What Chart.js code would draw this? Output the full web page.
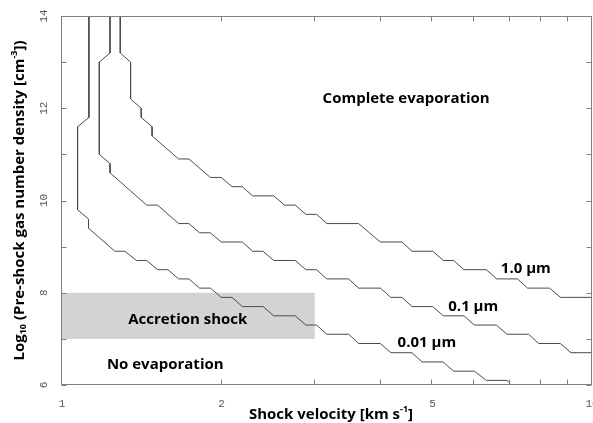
<!DOCTYPE html>
<html><head><meta charset="utf-8">
<script src="https://cdn.jsdelivr.net/npm/chart.js@4/dist/chart.umd.min.js"></script>
<style>html,body{margin:0;padding:0;background:#fff;overflow:hidden}</style>
</head><body>
<canvas id="c" width="593" height="423"></canvas>
<script>
// ---- data ----
// 1.0 micron contour: shock velocity [km/s] and log10 density
const v_1p0 = [1.288,1.288,1.347,1.347,1.411,1.411,1.479,1.479,1.660,1.736,1.905,1.998,2.093,2.189,2.289,2.509,2.630,2.755,2.884,3.022,3.160,3.628,3.987,4.380,4.575,5.007,5.242,5.482,5.734,6.319,6.613,7.238,7.557,8.318,8.714,10];
const n_1p0 = [14,13.2,13.0,12.2,12.0,11.8,11.6,11.4,10.9,10.9,10.5,10.5,10.3,10.3,10.1,10.1,9.9,9.9,9.7,9.7,9.5,9.5,9.1,9.1,8.9,8.9,8.7,8.7,8.5,8.5,8.3,8.3,8.1,8.1,7.9,7.9];
// 0.1 micron contour
const v_0p1 = [1.232,1.232,1.176,1.176,1.232,1.232,1.445,1.515,1.660,1.736,1.818,1.905,1.998,2.189,2.289,2.395,2.509,2.755,2.884,3.022,3.160,3.474,3.628,3.987,4.173,4.380,4.575,5.007,5.242,5.734,5.996,6.600,6.913,7.591,7.930,8.714,9.128,10];
const n_0p1 = [14,13.2,13.0,11.0,10.8,10.6,9.9,9.9,9.5,9.5,9.3,9.3,9.1,9.1,8.9,8.9,8.7,8.7,8.5,8.5,8.3,8.3,8.1,8.1,7.9,7.9,7.7,7.7,7.5,7.5,7.3,7.3,7.1,7.1,6.9,6.9,6.7,6.7];
// 0.01 micron contour
const v_0p01 = [1.124,1.124,1.070,1.070,1.122,1.122,1.258,1.314,1.381,1.445,1.515,1.584,1.660,1.736,1.818,1.905,1.998,2.093,2.189,2.395,2.509,2.755,2.884,3.022,3.160,3.474,3.628,3.987,4.173,4.575,4.778,5.236,5.482,6.000,6.319,6.913,7.04];
const n_0p01 = [14,11.8,11.6,9.8,9.6,9.4,8.9,8.9,8.7,8.7,8.5,8.5,8.3,8.3,8.1,8.1,7.9,7.9,7.7,7.7,7.5,7.5,7.3,7.3,7.1,7.1,6.9,6.9,6.7,6.7,6.5,6.5,6.3,6.3,6.1,6.1,6.0];
// Accretion shock region
const accretionV = [1, 3];
const accretionN = [7, 8];
// tick values / labels
const xTickValues = [1,2,3,4,5,6,7,8,9,10];
const xTickLabels = {1:'1', 2:'2', 5:'5', 10:'10'};
const yTickValues = [6,7,8,9,10,11,12,13,14];
const yTickLabels = {6:'6', 8:'8', 10:'10', 12:'12', 14:'14'};
// annotation texts and where they sit (data coordinates)
const noteTexts = ['Complete evaporation','Accretion shock','No evaporation','1.0 \u00b5m','0.1 \u00b5m','0.01 \u00b5m'];
const noteV = [4.46, 1.727, 1.566, 7.50, 5.97, 4.88];
const noteN = [12.21, 7.41, 6.44, 8.51, 7.70, 6.91];

const pts = (xs, ys) => xs.map((x, i) => ({x: x, y: ys[i]}));
const LINE = '#4a4a4a';
const TITLE_FONT = '"Open Sans", Lato, "DejaVu Sans", sans-serif';
const TICK_FONT = '"Liberation Mono", "DejaVu Sans Mono", monospace';

function richText(ctx, parts, size) {
  let w = 0;
  for (const [t, k] of parts) {
    ctx.font = 'bold ' + (k ? Math.round(size * 0.62) : size) + 'px ' + TITLE_FONT;
    w += ctx.measureText(t).width;
  }
  return w;
}
function drawRich(ctx, parts, size, x, y) {
  let cx = x;
  for (const [t, k] of parts) {
    const s = k ? Math.round(size * 0.62) : size;
    ctx.font = 'bold ' + s + 'px ' + TITLE_FONT;
    const dy = k === 'sub' ? size * 0.25 : (k === 'sup' ? -size * 0.35 : 0);
    ctx.fillText(t, cx, y + dy);
    cx += ctx.measureText(t).width;
  }
}

const framePlugin = {
  id: 'frame',
  afterDatasetsDraw(chart) {
    const {ctx, chartArea: a, scales} = chart;
    ctx.save();
    ctx.strokeStyle = '#808080';
    ctx.lineWidth = 1;
    const L = Math.round(a.left) - 0.5, R = Math.round(a.right) - 0.5;
    const T = Math.round(a.top) + 0.5, B = Math.round(a.bottom) - 0.5;
    ctx.strokeRect(L, T, R - L, B - T);
    ctx.beginPath();
    for (const v of xTickValues) {
      const px = Math.round(scales.x.getPixelForValue(v)) - 0.5;
      ctx.moveTo(px, B); ctx.lineTo(px, B - 5);
      ctx.moveTo(px, T); ctx.lineTo(px, T + 5);
    }
    for (const v of yTickValues) {
      const py = Math.round(scales.y.getPixelForValue(v)) + 0.5;
      ctx.moveTo(L, py); ctx.lineTo(L + 5, py);
      ctx.moveTo(R, py); ctx.lineTo(R - 5, py);
    }
    ctx.stroke();
    ctx.fillStyle = '#000';
    ctx.textAlign = 'center';
    ctx.textBaseline = 'middle';
    ctx.font = 'bold 15px ' + TITLE_FONT;
    noteTexts.forEach((t, i) => {
      ctx.fillText(t, scales.x.getPixelForValue(noteV[i]), scales.y.getPixelForValue(noteN[i]));
    });
    ctx.restore();
  },
  afterDraw(chart) {
    const {ctx, chartArea: a} = chart;
    ctx.save();
    ctx.fillStyle = '#000';
    ctx.textBaseline = 'middle';
    ctx.textAlign = 'left';
    const xParts = [['Shock velocity [km s', ''], ['-1', 'sup'], [']', '']];
    const xw = richText(ctx, xParts, 15);
    drawRich(ctx, xParts, 15, 331 - xw / 2, 415);
    const yParts = [['Log', ''], ['10', 'sub'], [' (Pre-shock gas number density [cm', ''], ['-3', 'sup'], ['])', '']];
    const yw = richText(ctx, yParts, 15);
    ctx.translate(20, (a.top + a.bottom) / 2);
    ctx.rotate(-Math.PI / 2);
    drawRich(ctx, yParts, 15, -yw / 2, 0);
    ctx.restore();
  }
};

new Chart(document.getElementById('c'), {
  type: 'line',
  data: {
    datasets: [
      {data: pts(v_1p0, n_1p0), borderColor: LINE, borderWidth: 1, pointRadius: 0, fill: false, tension: 0, order: 1},
      {data: pts(v_0p1, n_0p1), borderColor: LINE, borderWidth: 1, pointRadius: 0, fill: false, tension: 0, order: 1},
      {data: pts(v_0p01, n_0p01), borderColor: LINE, borderWidth: 1, pointRadius: 0, fill: false, tension: 0, order: 1},
      {data: pts(accretionV, [accretionN[1], accretionN[1]]), borderWidth: 0, borderColor: 'rgba(0,0,0,0)', pointRadius: 0,
       backgroundColor: '#d3d3d3', fill: {value: accretionN[0]}, order: 10}
    ]
  },
  options: {
    responsive: false,
    animation: false,
    events: [],
    layout: {padding: {top: 16, right: 1, left: 0, bottom: 0}},
    plugins: {legend: {display: false}, tooltip: {enabled: false}},
    scales: {
      x: {
        type: 'logarithmic', min: 1, max: 10,
        grid: {display: false}, border: {display: false},
        afterBuildTicks: s => { s.ticks = xTickValues.map(v => ({value: v})); },
        afterFit: s => { s.height = 38; s.paddingLeft = 0; s.paddingRight = 0; },
        ticks: {autoSkip: false, maxRotation: 0, minRotation: 0, padding: 4, color: '#555',
                font: {family: TICK_FONT, size: 11},
                callback: v => xTickLabels[v] || ''}
      },
      y: {
        type: 'linear', min: 6, max: 14,
        grid: {display: false}, border: {display: false},
        afterBuildTicks: s => { s.ticks = yTickValues.map(v => ({value: v})); },
        afterFit: s => { s.width = 62; s.paddingTop = 0; s.paddingBottom = 0; },
        ticks: {autoSkip: false, minRotation: 90, maxRotation: 90, padding: 3, color: '#555', crossAlign: 'center',
                font: {family: TICK_FONT, size: 11},
                callback: v => yTickLabels[v] || ''}
      }
    }
  },
  plugins: [framePlugin]
});
</script>
</body></html>
